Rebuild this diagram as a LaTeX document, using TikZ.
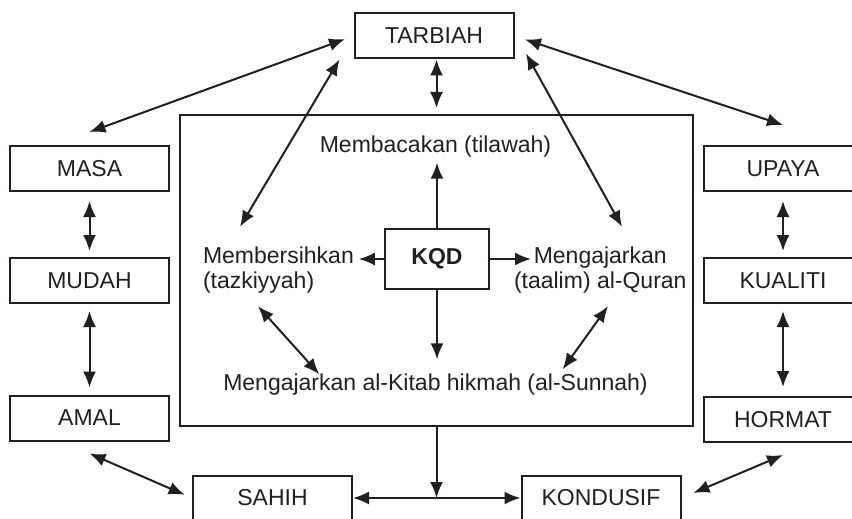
\documentclass[tikz,border=0pt]{standalone}
\usepackage{fontspec}
\setmainfont{Liberation Sans}
\usetikzlibrary{arrows.meta}
\usetikzlibrary{positioning}
\definecolor{ink}{HTML}{231F20}
\tikzset{box/.style = {draw, minimum width = 79.5pt, minimum height = 22.5pt, inner sep = 0}}
\tikzset{lbl/.style = {inner sep = 2pt}}
\tikzset{>={Latex[length = 8pt, width = 6.5pt]}}

\begin{document}
\begin{tikzpicture}[x = 0.5pt, y = -0.5pt, line width = 1pt, ink, font = \fontsize{11.5}{12.5}\selectfont]
      \useasboundingbox (0, 0) rectangle (852, 519);
      \node [box] (tarbiah) at (434, 36) {TARBIAH};
      \node [box] (masa) at (89.5, 168.5) {MASA};
      \node [box] (mudah) at (89.5, 280.5) {MUDAH};
      \node [box] (amal) at (89.5, 418) {AMAL};
      \node [box] (upaya) at (783, 168.5) {UPAYA};
      \node [box] (kualiti) at (783, 280.5) {KUALITI};
      \node [box] (hormat) at (783, 419.5) {HORMAT};
      \node [box] (sahih) at (272.5, 498) {SAHIH};
      \node [box] (kondusif) at (601, 498) {KONDUSIF};
      \node [draw, minimum width = 256.5pt, minimum height = 155.5pt] (core) at (436.5, 270.5) {};
      \node [draw, minimum width = 52pt, minimum height = 30pt, font = \fontsize{11.5}{12.5}\selectfont\bfseries] (kqd) at (437, 259) {KQD};
      \node [lbl] (tilawah) at (435.5, 147) {Membacakan (tilawah)};
      \node [lbl, anchor = west, align = left] (tazkiyyah) at (198, 270) {Membersihkan\\(tazkiyyah)};
      \node [lbl, anchor = west, align = center] (taalim) at (509, 270) {Mengajarkan\\(taalim) al-Quran};
      \node [lbl] (sunnah) at (435.5, 385) {Mengajarkan al-Kitab hikmah (al-Sunnah)};
      % outer ring
      \draw [<->, shorten < = 4.5pt] (tarbiah.west) -- ([yshift = 6.5pt] masa.north);
      \draw [<->, shorten < = 5.5pt] (tarbiah.east) -- ([yshift = 10pt] upaya.north);
      \draw [<->, shorten > = 3pt] (core.north |- tarbiah.south) -- (core.north);
      \draw [<->, shorten < = 4.5pt, shorten > = 3pt] (masa.south) -- (mudah.north);
      \draw [<->, shorten < = 3.5pt, shorten > = 3.5pt] (mudah.south) -- (amal.north);
      \draw [<->, shorten < = 4.5pt, shorten > = 3pt] (upaya.south) -- (kualiti.north);
      \draw [<->, shorten < = 3.5pt, shorten > = 4.5pt] (kualiti.south) -- (hormat.north);
      \draw [<->, shorten > = 4pt] ([yshift = -6pt] amal.south) -- (sahih.west);
      \draw [<->, shorten < = 6.5pt] (kondusif.east) -- ([yshift = -6pt] hormat.south);
      \draw [<->] (sahih.east) -- (kondusif.west);
      \draw [->] (core.south) -- (core.south |- sahih.east);
      % inside the frame
      \draw [<->] ([xshift = -7pt] tarbiah.south west) -- ([xshift = 21pt, yshift = 7.5pt] tazkiyyah.north west);
      \draw [<->] ([xshift = 5.75pt, yshift = 3pt] tarbiah.south east) -- ([xshift = 56.5pt, yshift = 7.5pt] taalim.north west);
      \draw [->] (kqd.north) -- (kqd.north |- tilawah.south);
      \draw [->] (kqd.west) -- (tazkiyyah.east |- kqd.west);
      \draw [->] (kqd.east) -- ([xshift = 11pt] taalim.west |- kqd.east);
      \draw [->, shorten > = 5pt] (kqd.south) -- (kqd.south |- sunnah.north);
      \draw [<->] ([xshift = 30pt, yshift = -4pt] tazkiyyah.south west) -- ([xshift = 50.5pt, yshift = -2.5pt] sunnah.north west);
      \draw [<->] ([xshift = 49.5pt, yshift = -4pt] taalim.south west) -- ([xshift = -45pt] sunnah.north east);
    \end{tikzpicture}
\end{document}
